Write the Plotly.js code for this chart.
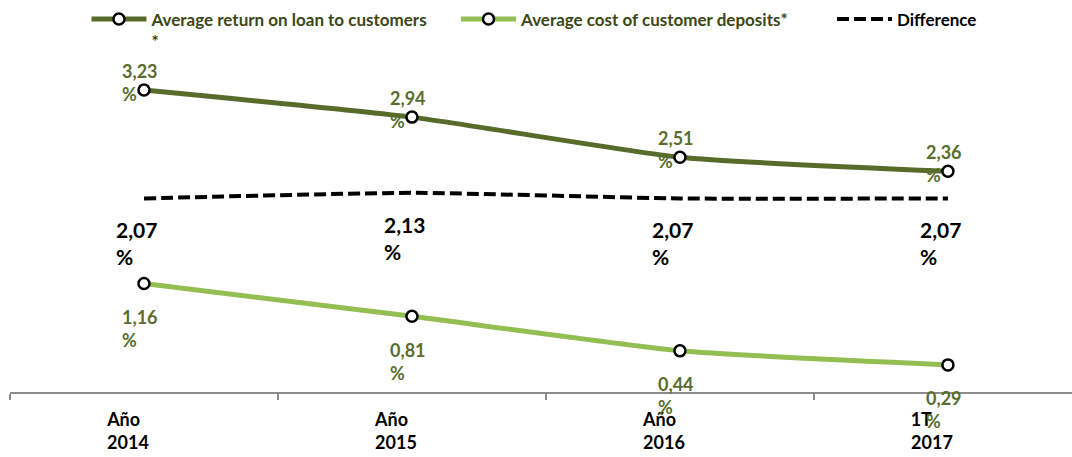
<!DOCTYPE html>
<html>
<head>
<meta charset="utf-8">
<script src="https://cdn.plot.ly/plotly-3.0.1.min.js"></script>
<style>
  html, body { margin: 0; padding: 0; background: #ffffff; }
  #chart { width: 1072px; height: 457px; }
</style>
</head>
<body>
<div id="chart"></div>
<script>
// ---- data ----
const categories = ["Año 2014", "Año 2015", "Año 2016", "1T 2017"];
const tickLabels = ["Año\u00a0\u00a0<br>2014", "Año\u00a0\u00a0<br>2015", "Año\u00a0\u00a0<br>2016", "1T\u00a0\u00a0\u00a0\u00a0\u00a0<br>2017"];
const returnOnLoans = [3.23, 2.94, 2.51, 2.36];
const costOfDeposits = [1.16, 0.81, 0.44, 0.29];
const difference = [2.07, 2.13, 2.07, 2.07];
const seriesNames = ["Average return on loan to customers<br>*", "Average cost of customer deposits*", "Difference"];

// ---- styles ----
const DARK = "#586b2b";
const LIGHT = "#93bf52";
const LABEL_OLIVE = "#5a6d2d";
const LEGEND_OLIVE = "#3b4714";
const FONT = "Lato, 'Open Sans', sans-serif";

const fmt = v => v.toFixed(2).replace(".", ",") + "<br>%";

const markerStyle = { symbol: "circle", size: 11, color: "#ffffff", line: { color: "#000000", width: 2.5 } };

const traces = [
  {
    x: categories, y: returnOnLoans, name: seriesNames[0], type: "scatter", mode: "lines+markers",
    line: { color: DARK, width: 5, shape: "spline", smoothing: 0.5 },
    marker: markerStyle, legend: "legend", hoverinfo: "skip"
  },
  {
    x: categories, y: costOfDeposits, name: seriesNames[1], type: "scatter", mode: "lines+markers",
    line: { color: LIGHT, width: 5, shape: "spline", smoothing: 0.5 },
    marker: markerStyle, legend: "legend2", hoverinfo: "skip"
  },
  {
    x: categories, y: difference, name: seriesNames[2], type: "scatter", mode: "lines",
    line: { color: "#000000", width: 4, dash: "12px,5px", shape: "spline", smoothing: 0.5 },
    legend: "legend3", hoverinfo: "skip"
  }
];

const annotations = [];
categories.forEach((c, i) => {
  annotations.push({
    x: c, y: returnOnLoans[i], xref: "x", yref: "y", text: fmt(returnOnLoans[i]),
    showarrow: false, xanchor: "left", yanchor: "middle", align: "left",
    xshift: -24, yshift: 8,
    font: { family: FONT, size: 18, weight: "bold", color: LABEL_OLIVE }
  });
  annotations.push({
    x: c, y: costOfDeposits[i], xref: "x", yref: "y", text: fmt(costOfDeposits[i]),
    showarrow: false, xanchor: "left", yanchor: "middle", align: "left",
    xshift: -24, yshift: -45,
    font: { family: FONT, size: 18, weight: "bold", color: LABEL_OLIVE }
  });
  annotations.push({
    x: c, y: difference[i], xref: "x", yref: "y", text: fmt(difference[i]),
    showarrow: false, xanchor: "left", yanchor: "middle", align: "left",
    xshift: -30, yshift: -45,
    font: { family: FONT, size: 21, weight: "bold", color: "#000000" }
  });
});

const legendBase = {
  orientation: "h", xanchor: "left", yanchor: "top", y: 1.044,
  bgcolor: "rgba(0,0,0,0)", valign: "top", itemwidth: 55,
  font: { family: FONT, size: 17, weight: "bold", color: LEGEND_OLIVE }
};

const layout = {
  width: 1072, height: 457,
  margin: { l: 10, r: 0, t: 18, b: 65, pad: 0 },
  paper_bgcolor: "#ffffff", plot_bgcolor: "#ffffff",
  showlegend: true,
  legend: Object.assign({}, legendBase, { x: 0.072 }),
  legend2: Object.assign({}, legendBase, { x: 0.42 }),
  legend3: Object.assign({}, legendBase, { x: 0.774, font: { family: FONT, size: 17, weight: "bold", color: "#000000" } }),
  xaxis: {
    type: "category", range: [-0.5, 3.463], fixedrange: true,
    tickmode: "array", tickvals: categories, ticktext: tickLabels,
    tickson: "boundaries", ticks: "outside", ticklen: 6, tickwidth: 2, tickcolor: "#8c8c8c",
    showline: true, linecolor: "#8c8c8c", linewidth: 2,
    showgrid: false, zeroline: false,
    ticklabelshift: -16, ticklabelstandoff: 10,
    tickfont: { family: FONT, size: 18, weight: "bold", color: "#000000" }
  },
  yaxis: {
    range: [0, 4], visible: false, showgrid: false, zeroline: false, fixedrange: true
  },
  annotations: annotations
};

Plotly.newPlot("chart", traces, layout, { displayModeBar: false, staticPlot: true });
</script>
</body>
</html>
